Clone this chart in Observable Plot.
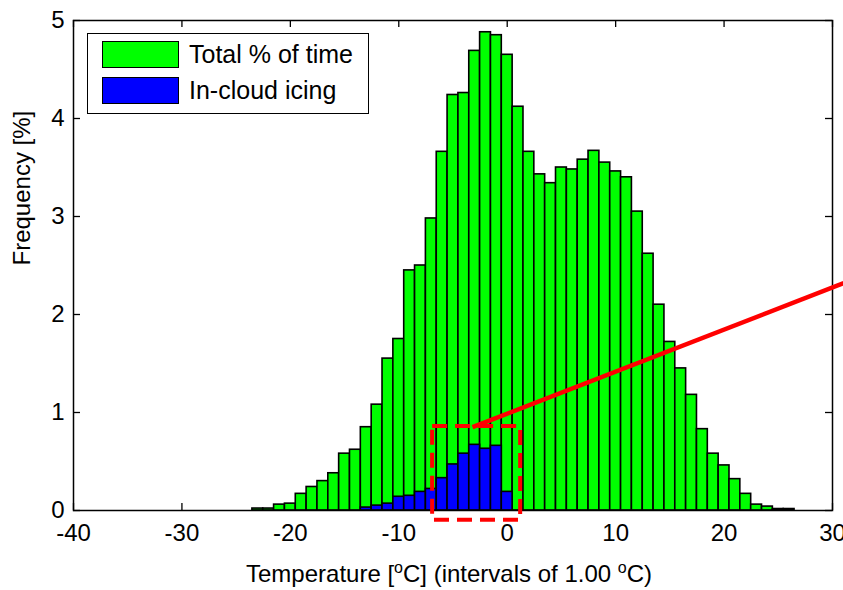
<!DOCTYPE html>
<html><head><meta charset="utf-8">
<script src="https://cdn.jsdelivr.net/npm/d3@7"></script>
<script src="https://cdn.jsdelivr.net/npm/@observablehq/plot@0.6"></script>
<style>
body{margin:0;background:#fff;}
#wrap{position:relative;width:843px;height:590px;font-family:"Liberation Sans",Arial,sans-serif;}
.legend{position:absolute;left:87px;top:33px;width:282px;height:81px;box-sizing:border-box;border:1.5px solid #000;background:#fff;}
.row{position:absolute;left:14px;height:27px;display:flex;align-items:center;font-size:25px;color:#000;white-space:nowrap;}
.sw{width:77px;height:27px;box-sizing:border-box;border:1.5px solid #000;margin-right:10px;}
</style></head><body><div id="wrap"></div>
<script>
// Temperature bins (°C, bin centres)
const temperatures = [-23,-22,-21,-20,-19,-18,-17,-16,-15,-14,-13,-12,-11,-10,-9,-8,-7,-6,-5,-4,-3,-2,-1,0,1,2,3,4,5,6,7,8,9,10,11,12,13,14,15,16,17,18,19,20,21,22,23,24,25,26];
// Total % of time
const totalPct = [0.02,0.02,0.06,0.07,0.17,0.24,0.30,0.38,0.58,0.62,0.85,1.08,1.55,1.75,2.45,2.50,2.98,3.66,4.24,4.26,4.69,4.88,4.85,4.65,4.12,3.66,3.43,3.34,3.50,3.48,3.58,3.67,3.55,3.46,3.40,3.05,2.62,2.10,1.72,1.45,1.18,0.83,0.58,0.46,0.32,0.17,0.06,0.04,0.015,0.015];
// In-cloud icing
const icingTemps = [-13,-12,-11,-10,-9,-8,-7,-6,-5,-4,-3,-2,-1,0];
const icingPct = [0.03,0.05,0.07,0.14,0.15,0.19,0.22,0.33,0.47,0.58,0.67,0.63,0.66,0.19];
const xTicks = [-40,-30,-20,-10,0,10,20,30];
const yTicks = [0,1,2,3,4,5];
const seriesNames = ["Total % of time","In-cloud icing"];
const seriesColors = ["#00ff00","#0000ff"];
const yLabel = "Frequency [%]";
const xLabelParts = ["Temperature [","o","C] (intervals of 1.00 ","o","C)"];
// red annotation (data coordinates)
const zoomBox = [{x1:-6.88, x2:1.24, y1:-0.10, y2:0.857}];
const pointer = [{x1:-3.2, y1:0.85, x2:31.03, y2:2.32}];

const W=843,H=590,mL=73,mR=11,mT=20,mB=80;
const fw=W-mL-mR, fh=H-mT-mB, tl=7;
const total = temperatures.map((t,i)=>({t, v: totalPct[i]}));
const icing = icingTemps.map((t,i)=>({t, v: icingPct[i]}));

const chart = Plot.plot({
  width:W, height:H, marginLeft:mL, marginRight:mR, marginTop:mT, marginBottom:mB,
  style:{fontFamily:'"Liberation Sans",Arial,sans-serif', fontSize:"24px", color:"#000", background:"#fff", overflow:"visible"},
  x:{domain:[-40,30]}, y:{domain:[0,5]},
  marks:[
    Plot.ruleX(xTicks,{x:d=>d, insetTop:fh-tl, stroke:"#000", strokeWidth:1.3}),
    Plot.ruleX(xTicks,{x:d=>d, insetBottom:fh-tl, stroke:"#000", strokeWidth:1.3}),
    Plot.ruleY(yTicks,{y:d=>d, insetRight:fw-tl, stroke:"#000", strokeWidth:1.3}),
    Plot.ruleY(yTicks,{y:d=>d, insetLeft:fw-tl, stroke:"#000", strokeWidth:1.3}),
    Plot.rect(total,{x1:d=>d.t-0.5, x2:d=>d.t+0.5, y1:d=>0, y2:d=>d.v, fill:seriesColors[0], stroke:"#000", strokeWidth:1.6}),
    Plot.rect(icing,{x1:d=>d.t-0.5, x2:d=>d.t+0.5, y1:d=>0, y2:d=>d.v, fill:seriesColors[1], stroke:"#000", strokeWidth:1.6}),
    Plot.frame({stroke:"#000", strokeWidth:1.5}),
    Plot.axisX({ticks:xTicks, tickSize:0, tickPadding:13, label:null, tickFormat:d=>String(d)}),
    Plot.axisY({ticks:yTicks, tickSize:0, tickPadding:9, label:null, tickFormat:d=>String(d)}),
    Plot.text([yLabel],{frameAnchor:"left", rotate:-90, dx:-51, fontSize:24, lineAnchor:"middle"}),
    Plot.text([xLabelParts.join("")],{frameAnchor:"bottom", dy:64, dx:-4, fontSize:24, lineAnchor:"middle"}),
    Plot.rect(zoomBox,{x1:"x1", x2:"x2", y1:"y1", y2:"y2", fill:"none", stroke:"#ff0000", strokeWidth:4, strokeDasharray:"15,8"}),
    Plot.link(pointer,{x1:"x1", y1:"y1", x2:"x2", y2:"y2", stroke:"#ff0000", strokeWidth:4.5})
  ]
});
const wrap = document.getElementById("wrap");
wrap.appendChild(chart);
// superscript "o" in the x label
chart.querySelectorAll("text").forEach(t=>{
  if (t.textContent === xLabelParts.join("")) {
    const p = xLabelParts;
    t.innerHTML = `<tspan>${p[0]}</tspan><tspan dy="-9" font-size="16">${p[1]}</tspan><tspan dy="9">${p[2]}</tspan><tspan dy="-9" font-size="16">${p[3]}</tspan><tspan dy="9">${p[4]}</tspan>`;
  }
});
// legend
const lg = document.createElement("div");
lg.className = "legend";
seriesNames.forEach((name,i)=>{
  const r = document.createElement("div");
  r.className = "row";
  r.style.top = (7 + i*36) + "px";
  const sw = document.createElement("div");
  sw.className = "sw"; sw.style.background = seriesColors[i];
  const tx = document.createElement("span"); tx.textContent = name;
  r.appendChild(sw); r.appendChild(tx);
  lg.appendChild(r);
});
wrap.appendChild(lg);
</script></body></html>
